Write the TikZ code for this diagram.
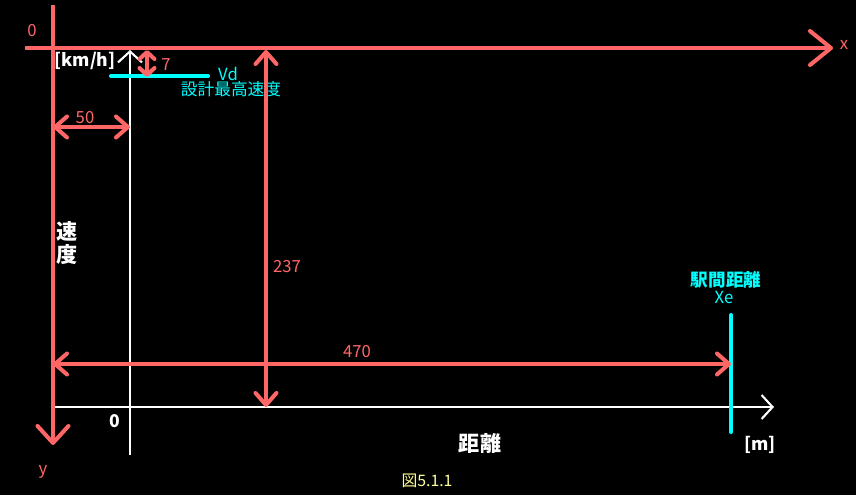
\documentclass[tikz,border=0pt]{standalone}
\usepackage{fontspec}
\setmainfont{Noto Sans CJK JP}
\usetikzlibrary{arrows.meta}
\definecolor{dimred}{RGB}{255,102,102}
\definecolor{vdcyan}{RGB}{0,255,255}
\definecolor{capyellow}{RGB}{255,255,153}

\tikzset{
    redaxis/.style={draw=dimred, line width=2.3pt, -{Straight Barb[length=0.42cm,width=0.68cm,round]}},
    dimarrow/.style={draw=dimred, line width=2.3pt, {Straight Barb[length=0.24cm,width=0.42cm,round]}-{Straight Barb[length=0.24cm,width=0.42cm,round]}},
    whiteaxis/.style={draw=white, line width=1.2pt, -{Straight Barb[length=0.22cm,width=0.48cm]}},
    cyanline/.style={draw=vdcyan, line width=2.3pt, line cap=round},
    redlabel/.style={text=dimred, font=\fontsize{9.5}{11}\selectfont, inner sep=0pt},
    whitelabel/.style={text=white, font=\bfseries\fontsize{10}{12}\selectfont, inner sep=0pt},
    biglabel/.style={text=white, font=\bfseries\fontsize{12}{13}\selectfont, inner sep=0pt},
    cyanlabel/.style={text=vdcyan, font=\fontsize{9.5}{10}\selectfont, inner sep=0pt}
}

\begin{document}
\begin{tikzpicture}[x=0.02cm,y=-0.02cm]
                \fill[black] (0,0) rectangle (856,495);
                \useasboundingbox (0,0) rectangle (856,495);
                % red axes
                \coordinate (xs) at (25,48);
                \coordinate (xe) at (833,48);
                \coordinate (ys) at (53,5);
                \coordinate (ye) at (53,445);
                \draw[redaxis] (xs) -- (xe);
                \draw[redaxis, -{Straight Barb[length=0.34cm,width=0.62cm,round]}] (ys) -- (ye);
                \node[redlabel] (xlab) at (844,45) {x};
                \node[redlabel] (ylab) at (43,472) {y};
                \node[redlabel] (olab) at (32,31) {0};
                % white axes
                \coordinate (wxs) at (55,407);
                \coordinate (wxe) at (774,407);
                \coordinate (wys) at (130,455);
                \coordinate (wye) at (130,50);
                \draw[whiteaxis] (wxs) -- (wxe);
                \draw[whiteaxis] (wys) -- (wye);
                \node[whitelabel] (kmh) at (85,61) {[km/h]};
                \node[whitelabel] (zero) at (115,421) {0};
                \node[whitelabel] (munit) at (760,445) {[m]};
                \node[biglabel] (kyori) at (480,443) {距離};
                \node[biglabel, align=center] (sokudo) at (67,243) {速\\度};
                % design speed
                \coordinate (vds) at (111,76);
                \coordinate (vde) at (208,76);
                \draw[cyanline] (vds) -- (vde);
                \node[cyanlabel] (vd) at (228,74) {Vd};
                \node[cyanlabel] (vdtxt) at (231,89) {設計最高速度};
                % station distance
                \coordinate (xes) at (731,315);
                \coordinate (xee) at (731,432);
                \draw[cyanline] (xes) -- (xee);
                \node[cyanlabel, font=\bfseries\fontsize{10}{11}\selectfont] (ekikan) at (726,280) {駅間距離};
                \node[cyanlabel] (xelab) at (724,297) {Xe};
                % dimensions
                \coordinate (d7a) at (147,50);
                \coordinate (d7b) at (147,77);
                \draw[dimarrow, {Straight Barb[length=0.14cm,width=0.3cm,round]}-{Straight Barb[length=0.14cm,width=0.3cm,round]}] (d7a) -- (d7b);
                \node[redlabel] (l7) at (166,65) {7};
                \coordinate (d50a) at (53,127);
                \coordinate (d50b) at (130,127);
                \draw[dimarrow] (d50a) -- (d50b);
                \node[redlabel] (l50) at (85,118) {50};
                \coordinate (d237a) at (266,50);
                \coordinate (d237b) at (266,407);
                \draw[dimarrow] (d237a) -- (d237b);
                \node[redlabel] (l237) at (287,267) {237};
                \coordinate (d470a) at (53,364);
                \coordinate (d470b) at (731,364);
                \draw[dimarrow] (d470a) -- (d470b);
                \node[redlabel] (l470) at (357,352) {470};
                % caption
                \node[text=capyellow, font=\fontsize{9}{10}\selectfont, inner sep=0pt] (cap) at (427,481) {図5.1.1};
            \end{tikzpicture}
\end{document}
